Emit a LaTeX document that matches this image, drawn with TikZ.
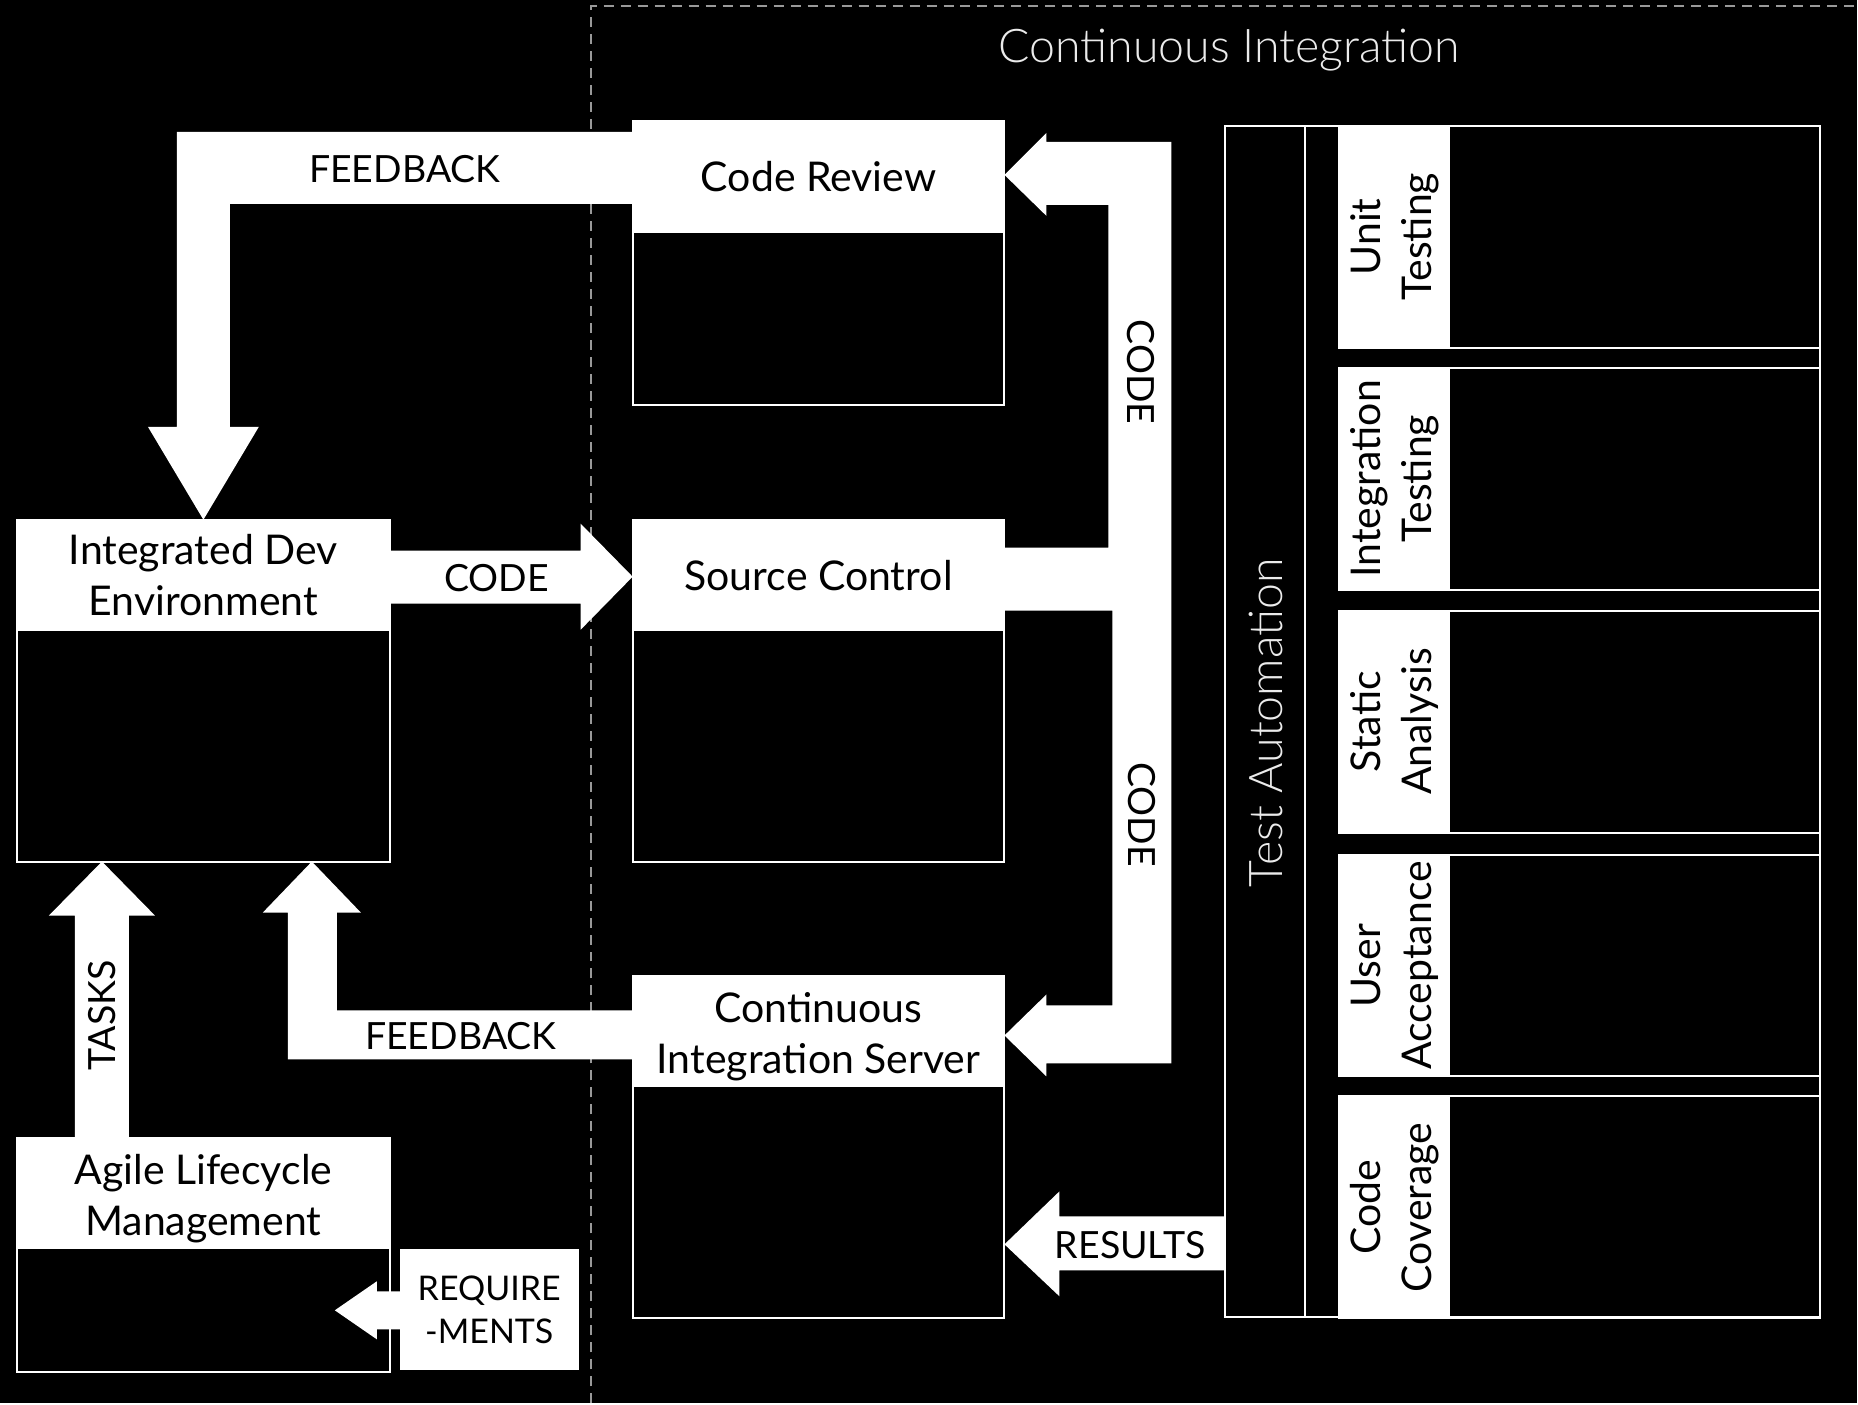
\documentclass[tikz,border=0pt]{standalone}
\usepackage{fontspec}
\setmainfont{Lato}
\newfontfamily\lightfont{Lato Light}
\newcommand\mainsize{\fontsize{41}{51}\selectfont}
\newcommand\capsize{\fontsize{37.5}{45}\selectfont}
\newcommand\smallsize{\fontsize{34}{44}\selectfont}
\newcommand\bigsize{\fontsize{46.5}{56}\selectfont}
\begin{document}
\begin{tikzpicture}[x=1pt,y=-1pt,
  every node/.style={inner sep=0pt, outer sep=0pt},
  frame/.style={draw=white, line width=2pt, anchor=north west},
  hdr/.style={fill=white, text=black, align=center, anchor=north west, font=\mainsize},
  fat/.style={fill=white},
  lbl/.style={text=black, font=\mainsize, align=center},
  caplbl/.style={text=black, font=\capsize, align=center},
  light/.style={text=white!92!black, font=\lightfont\bigsize},
  tline/.style={draw=white, line width=2pt},
  dashline/.style={draw=white!60!black, line width=2pt, dash pattern=on 10pt off 7pt}
]
% background / canvas
\fill[black] (0,0) rectangle (1858,1404);

% dashed frame of the CI region
\coordinate (dbot) at (591,1404);
\coordinate (dcorner) at (591,6);
\coordinate (dright) at (1858,6);
\draw[dashline] (dbot) -- (dcorner) -- (dright);
\node[light, anchor=base west] (title) at (999,63) {Continuous Integration};

% boxes
\node[frame, minimum width=373, minimum height=342] (ide) at (17,520) {};
\node[hdr, minimum width=373, minimum height=111] (ideh) at (17,520) {Integrated Dev\\Environment};

\node[frame, minimum width=373, minimum height=234] (alm) at (17,1139) {};
\node[hdr, minimum width=373, minimum height=111] (almh) at (17,1139) {};
\node[lbl] (almt) at ([yshift=-5pt]almh.center) {Agile Lifecycle\\Management};

\node[frame, minimum width=372, minimum height=284] (cr) at (633,121) {};
\node[hdr, minimum width=372, minimum height=112] (crh) at (633,121) {Code Review};

\node[frame, minimum width=372, minimum height=342] (sc) at (633,520) {};
\node[hdr, minimum width=372, minimum height=111] (sch) at (633,520) {Source Control};

\node[frame, minimum width=372, minimum height=342] (cis) at (633,977) {};
\node[hdr, minimum width=372, minimum height=111] (cish) at (633,977) {};
\node[lbl] (cist) at ([yshift=-5pt]cish.center) {Continuous\\Integration Server};

\node[hdr, font=\smallsize, minimum width=179, minimum height=121] (req) at (400,1250) {REQUIRE\\-MENTS};

% test automation
\node[frame, minimum width=595, minimum height=1192] (ta) at (1226,126) {};
\coordinate (tasep1) at (1306,126);
\coordinate (tasep2) at (1306,1318);
\draw[tline] (tasep1) -- (tasep2);
\node[light, rotate=90] (tat) at (1267,723) {Test Automation};

\foreach \y/\name/\txt in {126/ut/Unit\\Testing, 368/it/Integration\\Testing, 611/sa/Static\\Analysis, 855/ua/User\\Acceptance, 1097/cc/Code\\Coverage}{
  \node[frame, minimum width=481, minimum height=222] (\name) at (1340,\y) {};
  \node[hdr, minimum width=111, minimum height=222] (\name h) at (1340,\y) {};
  \node[lbl, rotate=90] (\name t) at (\name h.center) {\txt};
}

% fat arrows
% FEEDBACK: code review -> IDE
\fill[fat] (crh.west |- 0,132) -- (177,132) -- (177,427) -- (148,427) -- (ideh.north) -- (259,427) -- (230,427) -- (230,204) -- (crh.west |- 0,204) -- cycle;
\node[caplbl] (fb1) at (405,169) {FEEDBACK};

% CODE: IDE -> source control
\fill[fat] (ideh.east |- 0,551) -- (581,551) -- (581,524) -- (sch.west |- 0,577) -- (581,630) -- (581,604) -- (ideh.east |- 0,604) -- cycle;
\node[caplbl] (code1) at (497,578) {CODE};

% CODE: source control -> code review and CI server
\fill[fat] (sch.east |- 0,548) -- (1109,548) -- (1109,205) -- (1047,205) -- (1047,216) -- (crh.east |- 0,175)
  -- (1047,133) -- (1047,142) -- (1172,142) -- (1172,1064) -- (1047,1064) -- (1047,1077)
  -- (cish.east |- 0,1036) -- (1047,995) -- (1047,1006) -- (1113,1006) -- (1113,611) -- (sch.east |- 0,611) -- cycle;
\node[caplbl, rotate=-90] (code2) at (1142,372) {CODE};
\node[caplbl, rotate=-90] (code3) at (1143,815) {CODE};

% FEEDBACK: CI server -> IDE
\fill[fat] (cish.west |- 0,1011) -- (337,1011) -- (337,913) -- (361,913) -- (ide.south -| 312,0) -- (263,913) -- (288,913) -- (288,1060) -- (cish.west |- 0,1060) -- cycle;
\node[caplbl] (fb2) at (461,1037) {FEEDBACK};

% TASKS: ALM -> IDE
\fill[fat] (almh.north -| 75,0) -- (75,916) -- (49,916) -- (ide.south -| 102,0) -- (155,916) -- (129,916) -- (almh.north -| 129,0) -- cycle;
\node[caplbl, rotate=90] (tasks) at (102,1016) {TASKS};

% RESULTS: test automation -> CI server
\fill[fat] (ta.west |- 0,1217) -- (1060,1217) -- (1060,1192) -- (cis.east |- 0,1245) -- (1060,1297) -- (1060,1271) -- (ta.west |- 0,1271) -- cycle;
\node[caplbl] (res) at (1131,1246) {RESULTS};

% REQUIREMENTS -> ALM
\fill[fat] (req.west |- 0,1292) -- (377,1292) -- (377,1282) -- (335,1311) -- (377,1340) -- (377,1330) -- (req.west |- 0,1330) -- cycle;
\end{tikzpicture}
\end{document}
